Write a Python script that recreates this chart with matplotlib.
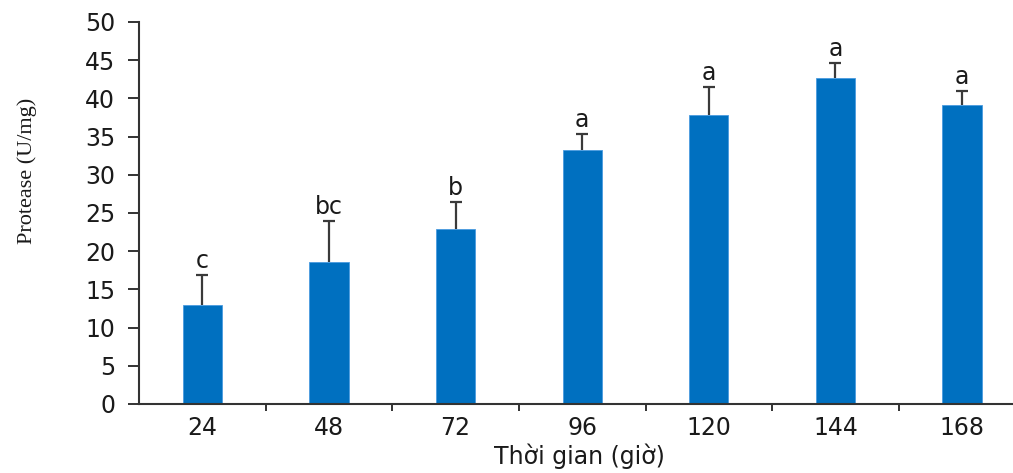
import matplotlib.pyplot as plt
import numpy as np

# thoi gian nuoi cay (gio) va hoat tinh protease
gio = ['24', '48', '72', '96', '120', '144', '168']
protease = [12.9, 18.6, 22.9, 33.3, 37.8, 42.7, 39.2]
sai_so = [4.0, 5.3, 3.6, 2.0, 3.7, 1.9, 1.8]
ky_tu = ['c', 'bc', 'b', 'a', 'a', 'a', 'a']

plt.rcParams['font.family'] = ['DejaVu Sans']

fig = plt.figure(figsize=(10.13, 4.73), dpi=100)
ax = fig.add_axes([0.1372, 0.1459, 0.8688, 0.8076])

x = np.arange(len(gio))
ax.bar(x, protease, width=0.31, color='#0070C0', edgecolor='#4a9be0', linewidth=0.6, zorder=2)
eb = ax.errorbar(x, protease, yerr=[np.zeros(len(sai_so)), sai_so], fmt='none',
                 ecolor='#3a3a3a', elinewidth=1.6, capsize=4, capthick=1.6, zorder=1)
eb[1][0].set_visible(False)  # bo cap duoi

for xi, v, e, t in zip(x, protease, sai_so, ky_tu):
    ax.annotate(t, (xi, v + e), xytext=(0, 5), textcoords='offset points',
                ha='center', va='baseline', fontsize=17, color='#1a1a1a')

ax.set_xlim(-0.5, 6.45)
ax.set_ylim(0, 50)
ax.set_yticks(np.arange(0, 51, 5))
ax.set_xticks(x)
ax.set_xticklabels(gio)
ax.set_xticks(x[:-1] + 0.5, minor=True)

ax.tick_params(axis='y', direction='out', length=8, width=1.4, pad=9,
               labelsize=17, color='#333333', labelcolor='#1a1a1a')
ax.tick_params(axis='x', which='major', length=0, pad=9, labelsize=17, labelcolor='#1a1a1a')
ax.tick_params(axis='x', which='minor', direction='out', length=5, width=1.4, color='#333333')

for s in ['top', 'right']:
    ax.spines[s].set_visible(False)
for s in ['left', 'bottom']:
    ax.spines[s].set_linewidth(1.5)
    ax.spines[s].set_color('#333333')

ax.set_ylabel('Protease (U/mg)', family='Liberation Serif', fontsize=16, color='#1a1a1a')
ax.yaxis.set_label_coords(-0.116, 0.61)
ax.set_xlabel('Thời gian (giờ)', fontsize=17, color='#1a1a1a')
ax.xaxis.set_label_coords(0.50, -0.138)
ax.xaxis.label.set_va('center')

plt.savefig('out.png', dpi=100)
